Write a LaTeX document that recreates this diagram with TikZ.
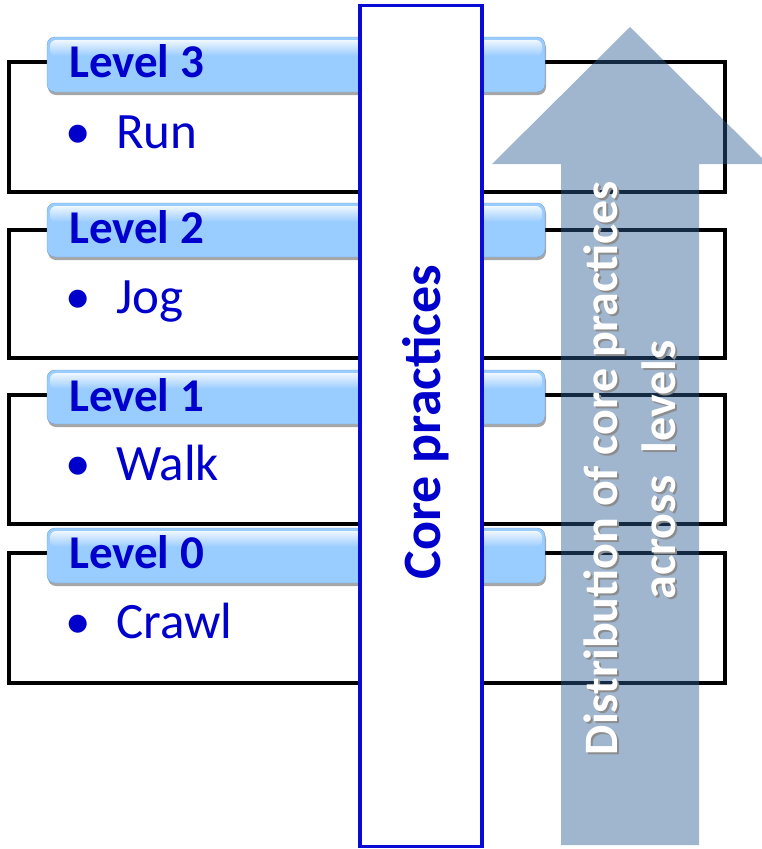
\documentclass[tikz,border=0pt]{standalone}
\usepackage{fontspec}
\setmainfont{Carlito}
\usetikzlibrary{shadows}
\definecolor{txtblue}{RGB}{0,0,204}
\definecolor{barblue}{RGB}{153,204,255}
\definecolor{corecol}{RGB}{10,10,215}
\definecolor{arrowcol}{RGB}{45,95,150}
\tikzset{
  levelbox/.style={draw=black, line width=4pt},
  barbox/.style={fill=barblue, rounded corners=8pt, draw=barblue!80!black, line width=0.4pt,
    drop shadow={shadow xshift=1pt, shadow yshift=-3pt, opacity=0.35, fill=black}},
  barhl/.style={rounded corners=6pt, top color=white, bottom color=barblue, fill opacity=0.85, draw=none},
  lvltext/.style={anchor=base west, inner sep=0pt, text=txtblue, font=\fontsize{47}{52}\selectfont\bfseries},
  itemtext/.style={anchor=base west, inner sep=0pt, text=txtblue, font=\fontsize{51}{58}\selectfont},
  corebox/.style={draw=corecol, line width=3.5pt, fill=white, inner sep=0pt},
  coretext/.style={rotate=90, anchor=base, inner sep=0pt, text=txtblue, font=\fontsize{54}{60}\selectfont\bfseries},
  disttext/.style={rotate=90, anchor=base, inner sep=0pt, text=white, font=\fontsize{48}{56}\selectfont\bfseries},
  distshadow/.style={rotate=90, anchor=base, inner sep=0pt, text=black!45, font=\fontsize{48}{56}\selectfont\bfseries}
}
\begin{document}
\begin{tikzpicture}[x=1pt,y=-1pt]
\useasboundingbox (0,0) rectangle (761,849);
\fill[white] (0,0) rectangle (761,849);

% level outline boxes
\draw[levelbox] (9,62) rectangle (725,192);
\draw[levelbox] (9,230) rectangle (725,358);
\draw[levelbox] (9,395) rectangle (725,524);
\draw[levelbox] (9,553) rectangle (725,683);

% header bars
\path[barbox] (47,37) rectangle (545,92);
\path[barhl] (50,40) rectangle (542,56);
\path[barbox] (47,203) rectangle (545,257);
\path[barhl] (50,206) rectangle (542,222);
\path[barbox] (47,370) rectangle (545,424);
\path[barhl] (50,373) rectangle (542,389);
\path[barbox] (47,528) rectangle (545,583);
\path[barhl] (50,531) rectangle (542,547);

% level texts
\node[lvltext] (l3) at (69,77) {Level 3};
\node[itemtext] (b3) at (65,148) {•};
\node[itemtext] (t3) at (116,148) {Run};
\node[lvltext] (l2) at (69,243) {Level 2};
\node[itemtext] (b2) at (65,313) {•};
\node[itemtext] (t2) at (116,313) {Jog};
\node[lvltext] (l1) at (69,411) {Level 1};
\node[itemtext] (b1) at (65,480) {•};
\node[itemtext] (t1) at (116,480) {Walk};
\node[lvltext] (l0) at (69,568) {Level 0};
\node[itemtext] (b0) at (65,638) {•};
\node[itemtext] (t0) at (116,638) {Crawl};

% core practices column
\node[corebox, minimum width=122pt, minimum height=841pt] (core) at (421,426) {};
\node[coretext] (coret) at (440,422) {Core practices};

% arrow
\path[fill=arrowcol, fill opacity=0.45] (561,845) -- (561,164) -- (492,164) -- (630,27) -- (768,164) -- (699,164) -- (699,845) -- cycle;

% arrow texts
\node[distshadow] (d1s) at (619,470) {Distribution of core practices};
\node[distshadow] (d2s) at (677,472) {across\ \ levels};
\node[disttext] (d1) at (617,468) {Distribution of core practices};
\node[disttext] (d2) at (675,470) {across\ \ levels};
\end{tikzpicture}
\end{document}
